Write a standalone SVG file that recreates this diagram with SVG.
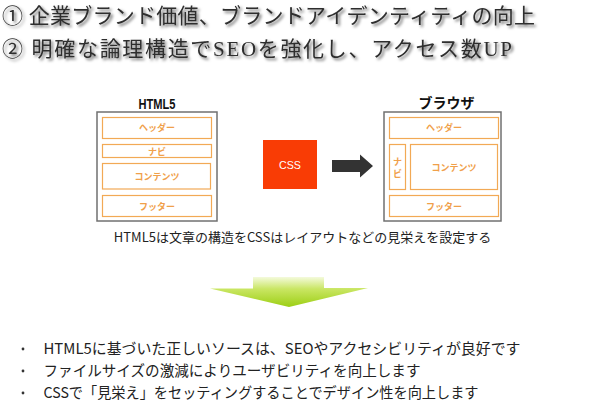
<svg xmlns="http://www.w3.org/2000/svg" width="600" height="420" viewBox="0 0 600 420">
<defs>
  <filter id="shadow" x="-5%" y="-30%" width="110%" height="160%">
    <feDropShadow dx="2" dy="2" stdDeviation="1.8" flood-color="#000" flood-opacity="0.6"/>
  </filter>
  <linearGradient id="green" gradientUnits="userSpaceOnUse" x1="0" y1="277" x2="0" y2="307">
    <stop offset="0" stop-color="#f4fadc"/>
    <stop offset="0.4" stop-color="#c9e663"/>
    <stop offset="1" stop-color="#9ccf14"/>
  </linearGradient>
</defs>
<style>
  .title { font-family: "Liberation Serif", "Noto Sans CJK JP", serif; font-size: 21px; fill: #2e2e2e; font-weight: normal; }
  .outer { fill: #fff; stroke: #707070; stroke-width: 1.5; }
  .inner { fill: #fff; stroke: #f2a955; stroke-width: 1.2; }
  .lbl { font-family: "Noto Sans CJK JP", "Liberation Sans", sans-serif; font-size: 9px; fill: #f0a04a; font-weight: bold; text-anchor: middle; }
  .head { font-family: "Liberation Sans", "Noto Sans CJK JP", sans-serif; font-size: 14px; font-weight: bold; fill: #111; text-anchor: middle; }
  .jp { font-family: "Noto Sans CJK JP", "Liberation Sans", sans-serif; fill: #222; }
</style>
<rect width="600" height="420" fill="#fff"/>

<g id="titles" filter="url(#shadow)">
  <text class="title" x="2" y="23" textLength="533" lengthAdjust="spacing">① 企業ブランド価値、ブランドアイデンティティの向上</text>
  <text class="title" x="2" y="56" textLength="510" lengthAdjust="spacing">② 明確な論理構造でSEOを強化し、アクセス数UP</text>
</g>

<g id="html5">
  <text class="head" x="157" y="109" textLength="37" lengthAdjust="spacingAndGlyphs">HTML5</text>
  <rect class="outer" x="97" y="112" width="120" height="109"/>
  <rect class="inner" x="102.5" y="117.5" width="109" height="21"/>
  <text class="lbl" x="157" y="131">ヘッダー</text>
  <rect class="inner" x="102.5" y="144.5" width="109" height="13"/>
  <text class="lbl" x="157" y="154.5">ナビ</text>
  <rect class="inner" x="102.5" y="163.5" width="108" height="25.5"/>
  <text class="lbl" x="157" y="180">コンテンツ</text>
  <rect class="inner" x="102.5" y="195.5" width="109" height="21"/>
  <text class="lbl" x="157" y="210">フッター</text>
</g>

<g id="css">
  <rect x="263" y="140" width="54" height="49" fill="#f93c05"/>
  <text x="290" y="168.5" font-family="Liberation Sans, sans-serif" font-size="11" fill="#fff" text-anchor="middle" textLength="22" lengthAdjust="spacingAndGlyphs">CSS</text>
</g>

<g id="browser">
  <text class="head" x="446.5" y="108" font-size="12" font-family="Noto Sans CJK JP, sans-serif">ブラウザ</text>
  <rect class="outer" x="384" y="112" width="117" height="109"/>
  <rect class="inner" x="389.5" y="117.5" width="109" height="21"/>
  <text class="lbl" x="444" y="131">ヘッダー</text>
  <rect class="inner" x="389.5" y="144.5" width="16" height="45"/>
  <text class="lbl" x="397.5" y="164.5">ナ</text>
  <text class="lbl" x="397.5" y="176.5">ビ</text>
  <rect class="inner" x="410.5" y="144.5" width="87" height="45"/>
  <text class="lbl" x="454" y="171">コンテンツ</text>
  <rect class="inner" x="389.5" y="195.5" width="109" height="21"/>
  <text class="lbl" x="444" y="210">フッター</text>
</g>

<g id="connectors">
  <polygon points="332,160 360,160 360,154.5 373,166 360,177.5 360,172 332,172" fill="#333"/>
  <polygon points="253,277 324,277 324,288 368,288 289,307 210,288.5 253,288.5" fill="url(#green)"/>
</g>

<g id="caption">
  <text class="jp" x="302.5" y="242" font-size="13" text-anchor="middle">HTML5は文章の構造をCSSはレイアウトなどの見栄えを設定する</text>
</g>

<g id="bullets" class="jp" font-size="15">
  <circle cx="23" cy="349" r="1.4" fill="#333"/>
  <circle cx="23" cy="371" r="1.4" fill="#333"/>
  <circle cx="23" cy="393" r="1.4" fill="#333"/>
  <text x="43.5" y="354" textLength="477" lengthAdjust="spacingAndGlyphs">HTML5に基づいた正しいソースは、SEOやアクセシビリティが良好です</text>
  <text x="43.5" y="376" textLength="377" lengthAdjust="spacingAndGlyphs">ファイルサイズの激減によりユーザビリティを向上します</text>
  <text x="43.5" y="398" textLength="435" lengthAdjust="spacingAndGlyphs">CSSで「見栄え」をセッティングすることでデザイン性を向上します</text>
</g>
</svg>
